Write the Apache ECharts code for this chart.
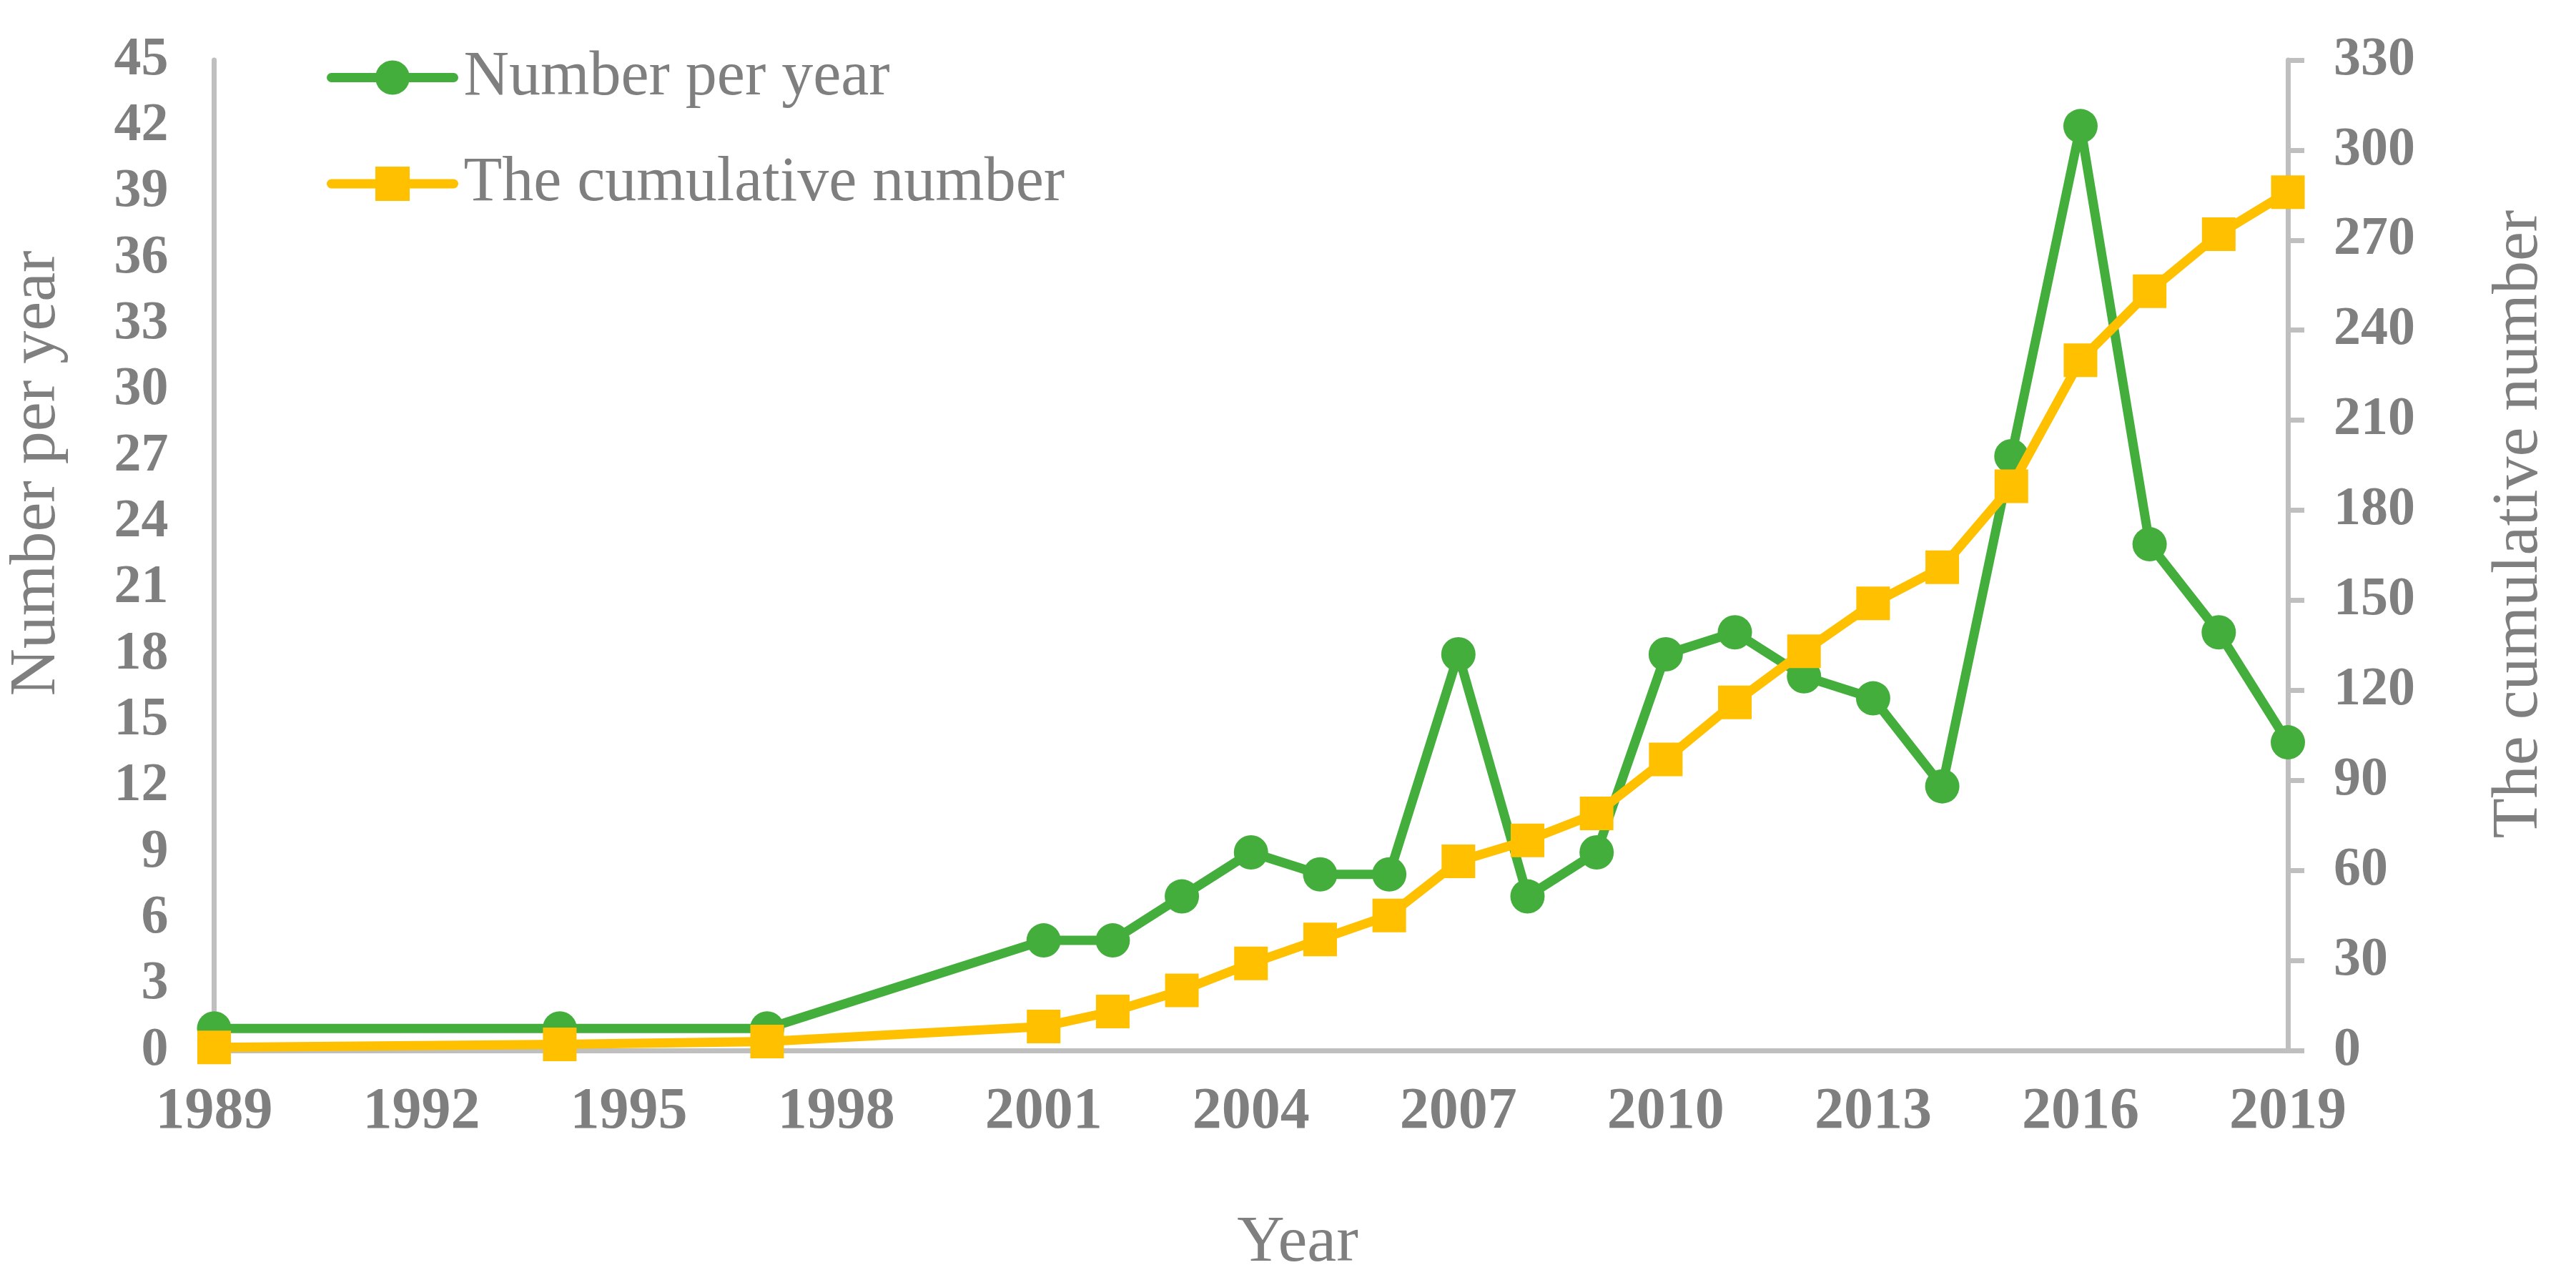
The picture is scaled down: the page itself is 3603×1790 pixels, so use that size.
<!DOCTYPE html>
<html>
<head>
<meta charset="utf-8">
<script src="https://cdn.jsdelivr.net/npm/echarts@6/dist/echarts.min.js"></script>
<style>
html,body{margin:0;padding:0;background:#fff;}
#chart{width:3603px;height:1790px;}
</style>
</head>
<body>
<div id="chart"></div>
<script>
var years = [1989, 1994, 1997, 2001, 2002, 2003, 2004, 2005, 2006, 2007, 2008, 2009, 2010, 2011, 2012, 2013, 2014, 2015, 2016, 2017, 2018, 2019];
var perYear = [1, 1, 1, 5, 5, 7, 9, 8, 8, 18, 7, 9, 18, 19, 17, 16, 12, 27, 42, 23, 19, 14];
var cumulative = [1, 2, 3, 8, 13, 20, 29, 37, 45, 63, 70, 79, 97, 116, 133, 149, 161, 188, 230, 253, 272, 286];
var seriesNames = ['Number per year', 'The cumulative number'];
var axisTitles = ['Year', 'Number per year', 'The cumulative number'];

var GRAY = '#7f7f7f';
var AXIS = '#bfbfbf';
var GREEN = '#44ae3c';
var GOLD = '#ffc000';
var FONT = 'Liberation Serif';

function pairs(xs, ys) {
  return xs.map(function (x, i) { return [x, ys[i]]; });
}

var chart = echarts.init(document.getElementById('chart'), null, {renderer: 'canvas', devicePixelRatio: 1});

var option = {
  animation: false,
  backgroundColor: '#ffffff',
  grid: {left: 299.5, top: 84, width: 2900.5, height: 1385, containLabel: false},
  legend: {
    orient: 'vertical',
    left: 452,
    top: 59.5,
    itemWidth: 171,
    itemHeight: 60,
    itemGap: 60.5,
    data: seriesNames,
    lineStyle: {width: 13, cap: 'round'},
    textStyle: {fontFamily: FONT, fontSize: 88, color: GRAY, padding: [0, 0, 0, 9]}
  },
  xAxis: {
    type: 'value',
    min: 1989,
    max: 2019,
    interval: 3,
    axisLine: {show: true, onZero: false, lineStyle: {color: AXIS, width: 7}},
    axisTick: {show: false},
    splitLine: {show: false},
    axisLabel: {fontFamily: FONT, fontSize: 82, fontWeight: 'bold', color: GRAY, margin: 46,
      formatter: function (v) { return String(v); }}
  },
  yAxis: [
    {
      type: 'value',
      position: 'left',
      min: 0,
      max: 45,
      interval: 3,
      axisLine: {show: true, lineStyle: {color: AXIS, width: 7}},
      axisTick: {show: false},
      splitLine: {show: false},
      axisLabel: {fontFamily: FONT, fontSize: 76, fontWeight: 'bold', color: GRAY, margin: 64}
    },
    {
      type: 'value',
      position: 'right',
      min: 0,
      max: 330,
      interval: 30,
      axisLine: {show: true, lineStyle: {color: AXIS, width: 7}},
      axisTick: {show: true, inside: false, length: 23, lineStyle: {color: AXIS, width: 7}},
      splitLine: {show: false},
      axisLabel: {fontFamily: FONT, fontSize: 76, fontWeight: 'bold', color: GRAY, margin: 64}
    }
  ],
  graphic: [
    {type: 'text', x: 52, y: 662, rotation: Math.PI / 2,
     style: {text: axisTitles[1], fontFamily: FONT, fontSize: 92, fill: GRAY, align: 'center', verticalAlign: 'middle', textAlign: 'center', textVerticalAlign: 'middle'}},
    {type: 'text', x: 3524, y: 733, rotation: Math.PI / 2,
     style: {text: axisTitles[2], fontFamily: FONT, fontSize: 92, fill: GRAY, align: 'center', verticalAlign: 'middle', textAlign: 'center', textVerticalAlign: 'middle'}},
    {type: 'text', x: 1815, y: 1739,
     style: {text: axisTitles[0], fontFamily: FONT, fontSize: 92, fill: GRAY, align: 'center', verticalAlign: 'middle', textAlign: 'center', textVerticalAlign: 'middle'}}
  ],
  series: [
    {
      name: seriesNames[0],
      type: 'line',
      yAxisIndex: 0,
      data: pairs(years, perYear),
      symbol: 'circle',
      symbolSize: 48,
      lineStyle: {color: GREEN, width: 13, cap: 'round', join: 'round'},
      itemStyle: {color: GREEN, borderWidth: 0},
      z: 2
    },
    {
      name: seriesNames[1],
      type: 'line',
      yAxisIndex: 1,
      data: pairs(years, cumulative),
      symbol: 'rect',
      symbolSize: 47,
      lineStyle: {color: GOLD, width: 13, cap: 'round', join: 'round'},
      itemStyle: {color: GOLD, borderWidth: 0},
      z: 3
    }
  ]
};
chart.setOption(option);
</script>
</body>
</html>
